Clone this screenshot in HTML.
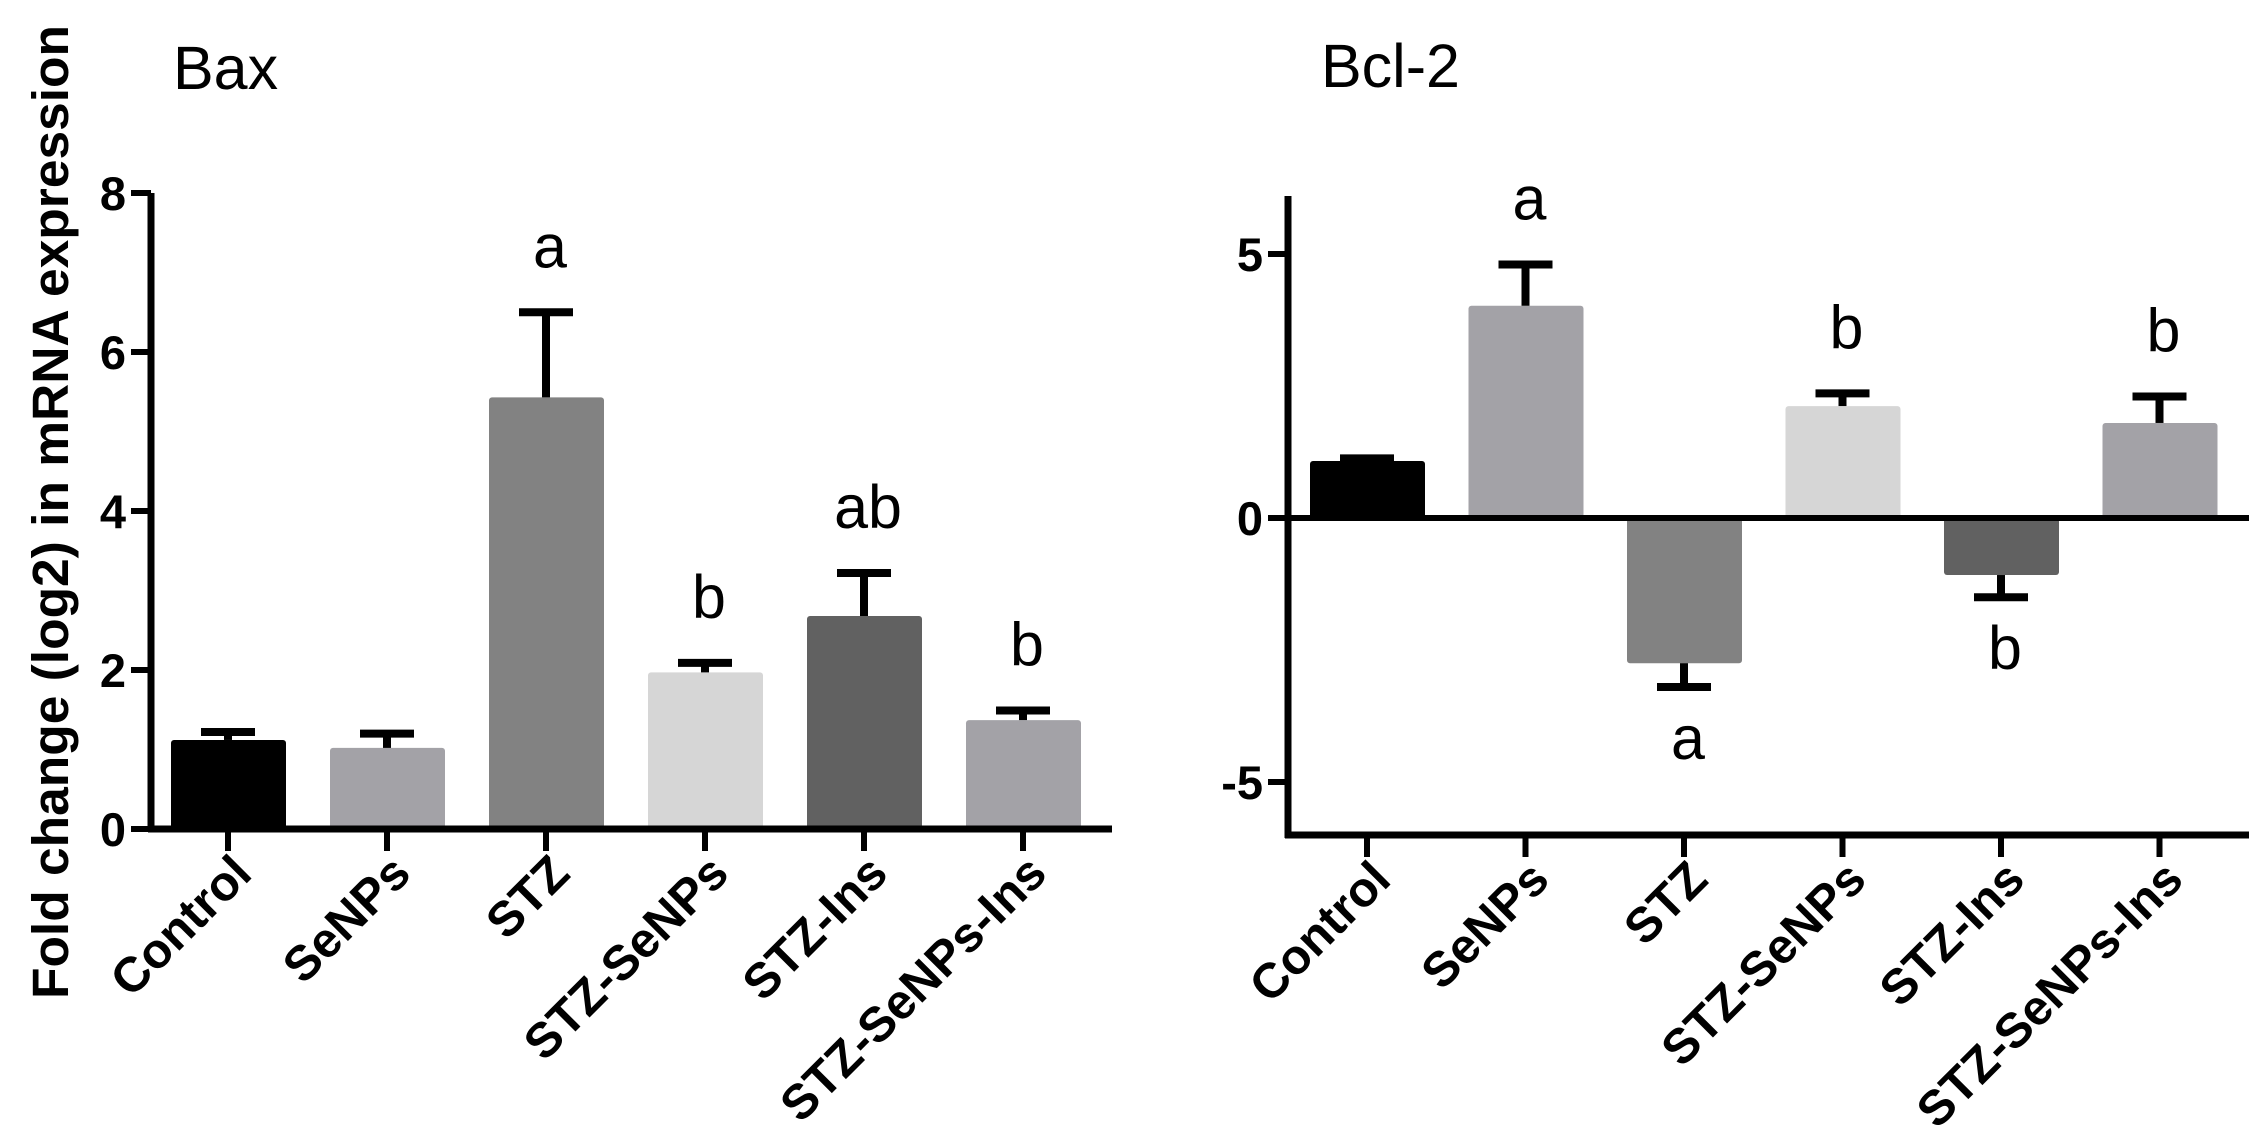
<!DOCTYPE html>
<html><head><meta charset="utf-8"><style>
html,body{margin:0;padding:0;background:#fff;}
svg{display:block;font-family:"Liberation Sans",sans-serif;}
</style></head><body>
<svg id="chart" width="2268" height="1140" viewBox="0 0 2268 1140" xmlns="http://www.w3.org/2000/svg">
<text x="68" y="512" transform="rotate(-90 68 512)" text-anchor="middle" font-size="51" font-weight="bold" textLength="974" lengthAdjust="spacingAndGlyphs">Fold change (log2) in mRNA expression</text>
<text x="173" y="89" font-size="61">Bax</text>
<text x="1321" y="87" font-size="61">Bcl-2</text>
<g id="left"></g>
<g id="right"></g>
</svg>
<script>
const categories = ["Control","SeNPs","STZ","STZ-SeNPs","STZ-Ins","STZ-SeNPs-Ins"];
const colors = ["#000000","#a3a2a7","#828282","#d6d6d6","#616161","#a3a2a7"];
const baxValues = [1.12, 1.02, 5.43, 1.97, 2.68, 1.37];
const baxErrors = [0.1, 0.18, 1.07, 0.12, 0.54, 0.12];
const baxLetters = ["", "", "a", "b", "ab", "b"];
const baxTicks = [0, 2, 4, 6, 8];
const bclValues = [1.08, 4.02, -2.75, 2.12, -1.08, 1.8];
const bclErrors = [0.05, 0.78, 0.45, 0.24, 0.42, 0.5];
const bclLetters = ["", "a", "a", "b", "b", "b"];
const bclTicks = [-5, 0, 5];

const NS = "http://www.w3.org/2000/svg";
function mk(parent, tag, attrs, text){
  const e = document.createElementNS(NS, tag);
  for (const k in attrs) e.setAttribute(k, attrs[k]);
  if (text !== undefined) e.textContent = text;
  parent.appendChild(e);
  return e;
}

function drawChart(g, cfg, values, errors, letters, ticks, prefix){
  const y = v => cfg.y0 - v * cfg.pxPerUnit;
  const x = i => cfg.x0 + i * cfg.step;
  values.forEach((v,i)=>{
    const top = Math.min(y(v), y(0)), h = Math.abs(y(v)-y(0));
    const r = mk(g,"rect",{x:x(i)-57,y:top,width:115,height:h,fill:colors[i],rx:3});
    
    
    const dir = v >= 0 ? 1 : -1;
    const ye = y(v + dir*errors[i]);
    const st = mk(g,"line",{x1:x(i),x2:x(i),y1:y(v),y2:ye,stroke:"#000","stroke-width":8});
    
    
    const cap = mk(g,"line",{x1:x(i)-27,x2:x(i)+27,y1:ye,y2:ye,stroke:"#000","stroke-width":8});
    
    
    if (letters[i]) {
      const ly = dir > 0 ? ye - 45 : ye + 72;
      const t = mk(g,"text",{x:x(i)+4,y:ly,"font-size":61,"text-anchor":"middle"},letters[i]);
      
      
    }
    const tk = mk(g,"line",{x1:x(i),x2:x(i),y1:cfg.bottom,y2:cfg.bottom+22,stroke:"#000","stroke-width":6});
    
    
    const lx = x(i)+26, lyy = cfg.bottom+47;
    const lab = mk(g,"text",{x:lx,y:lyy,"font-size":49,"font-weight":"bold","text-anchor":"end",transform:`rotate(-45 ${lx} ${lyy})`},categories[i]);
    
    
  });
  const ya = mk(g,"line",{x1:cfg.axisX,x2:cfg.axisX,y1:cfg.top,y2:cfg.bottom+3,stroke:"#000","stroke-width":7});
  
  
  const xa = mk(g,"line",{x1:cfg.axisX-3,x2:cfg.right,y1:cfg.bottom,y2:cfg.bottom,stroke:"#000","stroke-width":7});
  
  
  if (cfg.zeroLine) {
    const zl = mk(g,"line",{x1:cfg.axisX,x2:cfg.right,y1:y(0),y2:y(0),stroke:"#000","stroke-width":6});
    
    
  }
  ticks.forEach(t=>{
    const tl = mk(g,"line",{x1:cfg.axisX-20,x2:cfg.axisX,y1:y(t),y2:y(t),stroke:"#000","stroke-width":6});
    
    
    const tt = mk(g,"text",{x:cfg.axisX-25,y:y(t)+17,"font-size":47,"font-weight":"bold","text-anchor":"end"},String(t));
    
    
  });
}

drawChart(document.getElementById("left"),
  {x0:228, step:159, y0:829, pxPerUnit:79.5, axisX:151, top:193, bottom:829, right:1112, zeroLine:false},
  baxValues, baxErrors, baxLetters, baxTicks, "bax");
drawChart(document.getElementById("right"),
  {x0:1367, step:158.5, y0:518, pxPerUnit:52.8, axisX:1288, top:196, bottom:835, right:2249, zeroLine:true},
  bclValues, bclErrors, bclLetters, bclTicks, "bcl2");
</script>
</body></html>
